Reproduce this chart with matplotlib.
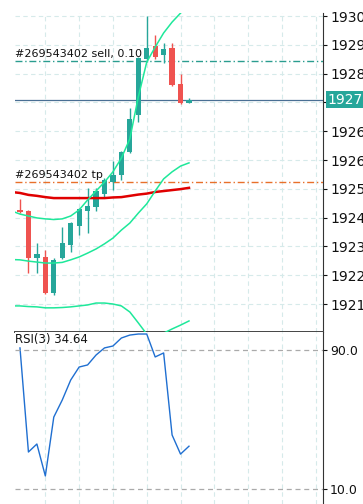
import numpy as np
import matplotlib.pyplot as plt

#------------------------------ chart data ------------------------------
# candles (oldest first)
opens  = [1924.44, 1924.41, 1922.94, 1922.97, 1921.84, 1922.94, 1923.34, 1923.94, 1924.41, 1924.53,
          1924.94, 1925.31, 1925.53, 1926.25, 1927.41, 1929.16, 1929.56, 1929.28, 1929.50, 1928.38, 1927.78]
highs  = [1924.78, 1924.44, 1923.41, 1923.19, 1922.94, 1923.91, 1924.06, 1924.50, 1925.13, 1925.13,
          1925.44, 1925.97, 1926.28, 1927.63, 1929.22, 1930.50, 1929.91, 1929.66, 1929.66, 1928.69, 1927.94]
lows   = [1924.34, 1922.47, 1922.47, 1921.81, 1921.78, 1922.91, 1923.13, 1923.66, 1923.72, 1924.41,
          1924.84, 1925.06, 1925.38, 1926.22, 1927.19, 1929.06, 1929.16, 1929.03, 1928.31, 1927.75, 1927.78]
closes = [1924.38, 1922.94, 1923.06, 1921.84, 1922.88, 1923.41, 1924.03, 1924.47, 1924.56, 1925.03,
          1925.38, 1925.53, 1926.25, 1927.28, 1929.19, 1929.50, 1929.22, 1929.47, 1928.34, 1927.78, 1927.88]

# overlay lines, first value belongs to the bar just left of the view (index -1)
ma_red = [1925.00, 1924.97, 1924.91, 1924.88, 1924.84, 1924.81, 1924.81, 1924.81, 1924.81, 1924.81, 1924.81,
          1924.81, 1924.83, 1924.84, 1924.88, 1924.92, 1924.95, 1925.00, 1925.03, 1925.06, 1925.09, 1925.13]
band_up = [1924.41, 1924.31, 1924.25, 1924.19, 1924.16, 1924.14, 1924.16, 1924.25, 1924.44, 1924.75, 1925.03,
           1925.31, 1925.63, 1926.06, 1926.66, 1927.97, 1929.06, 1929.53, 1929.97, 1930.31, 1930.59, 1930.84]
band_mid = [1922.89, 1922.88, 1922.84, 1922.81, 1922.78, 1922.78, 1922.80, 1922.88, 1922.97, 1923.09, 1923.22,
            1923.38, 1923.56, 1923.81, 1924.03, 1924.34, 1924.63, 1925.03, 1925.41, 1925.63, 1925.81, 1925.91]
band_low = [1921.44, 1921.44, 1921.42, 1921.41, 1921.38, 1921.38, 1921.39, 1921.41, 1921.44, 1921.47, 1921.53,
            1921.53, 1921.50, 1921.44, 1921.25, 1920.91, 1920.56, 1920.38, 1920.59, 1920.72, 1920.84, 1920.97]

rsi = [91.2, 31.3, 35.9, 17.5, 51.4, 61.2, 72.7, 80.2, 81.4, 87.1, 91.2,
       92.3, 96.9, 98.6, 99.2, 99.2, 86.0, 88.3, 41.1, 30.1, 34.64]
rsi_label = "RSI(3) 34.64"

sell_price = 1929.09
sell_label = "#269543402 sell, 0.10"
tp_price = 1925.31
tp_label = "#269543402 tp"
last_price = 1927.88

price_ticks = [1930.50, 1929.60, 1928.70, 1927.80, 1926.90, 1926.00,
               1925.10, 1924.20, 1923.30, 1922.40, 1921.50]
rsi_ticks = [90.0, 10.0]

#------------------------------ styles ------------------------------
col_up = '#26a69a'
col_down = '#ef5350'
col_band = '#1ee89a'
col_grid = '#d6eaea'
W, H = 363, 504

fig = plt.figure(figsize=(W / 100, H / 100), dpi=100)
ax = fig.add_axes((15 / W, (H - 332) / H, 308 / W, 319 / H))
ax2 = fig.add_axes((15 / W, 0, 308 / W, (H - 332) / H), sharex=ax)

x = np.arange(len(opens))
xl = np.arange(-1, len(opens))
o, h, l, c = map(np.array, (opens, highs, lows, closes))
up = c >= o
colors = np.where(up, col_up, col_down)

# wicks and bodies
ax.vlines(x, l, h, colors=colors, lw=1, zorder=3)
body = np.maximum(np.abs(c - o), 0.04)
ax.bar(x, body, bottom=np.minimum(o, c), width=0.62, color=colors, zorder=4)

ax.plot(xl, ma_red, color='#e00000', lw=1.8, zorder=5)
for band in (band_up, band_mid, band_low):
    ax.plot(xl, band, color=col_band, lw=1.1, zorder=5)

# order lines
ax.axhline(sell_price, color='#2a9d8f', lw=1, ls=(0, (5, 2, 1, 2)), zorder=2)
ax.axhline(tp_price, color='#e8702a', lw=1, ls=(0, (5, 2, 1, 2)), zorder=2)
ax.axhline(last_price, color='#4a6f94', lw=0.9, zorder=2)
ax.text(-0.59, sell_price + 0.08, sell_label, fontsize=8, color='#111', va='bottom', zorder=6)
ax.text(-0.59, tp_price + 0.08, tp_label, fontsize=8, color='#111', va='bottom', zorder=6)

ax.set_xlim(-0.59, 35.86)
ax.set_ylim(1920.625, 1930.594)
ax.set_xticks(np.arange(3, 36, 4))
ax.set_yticks(price_ticks)
ax.set_yticklabels([f"{p:.2f}" for p in price_ticks])
ax.yaxis.tick_right()
ax.tick_params(axis='y', length=3, pad=2, labelsize=10, colors='#111')
ax.tick_params(axis='x', length=0, labelbottom=False)
ax.grid(True, color=col_grid, ls=(0, (4, 3)), lw=0.8)
ax.set_axisbelow(True)
for s in ('top', 'left'):
    ax.spines[s].set_visible(False)
ax.spines['right'].set_color('#333')
ax.spines['bottom'].set_color('#444')
ax.spines['bottom'].set_linewidth(1.4)

# price box on the axis
ax.annotate(f"{last_price:.2f}", xy=(1, last_price), xycoords=('axes fraction', 'data'),
            xytext=(3, 0), textcoords='offset points', va='center', ha='left',
            fontsize=10, color='white', annotation_clip=False,
            bbox=dict(boxstyle='square,pad=0.1', fc=col_up, ec='none'), zorder=10)

# RSI panel
ax2.plot(x, rsi, color='#1f6fd1', lw=1)
for v in rsi_ticks:
    ax2.axhline(v, color='#aaaaaa', lw=0.9, ls=(0, (4, 3)))
ax2.set_ylim(1.37, 100.36)
ax2.set_yticks(rsi_ticks)
ax2.set_yticklabels([f"{v:.1f}" for v in rsi_ticks])
ax2.yaxis.tick_right()
ax2.tick_params(axis='y', length=3, pad=2, labelsize=9, colors='#111')
ax2.tick_params(axis='x', length=0, labelbottom=False)
ax2.grid(True, axis='x', color=col_grid, ls=(0, (4, 3)), lw=0.8)
for s in ('top', 'left', 'bottom'):
    ax2.spines[s].set_visible(False)
ax2.spines['right'].set_color('#333')
ax2.text(0, 0.995, rsi_label, transform=ax2.transAxes, fontsize=8.5, color='#111',
         va='top', ha='left')

fig.savefig('out.png', dpi=100)
